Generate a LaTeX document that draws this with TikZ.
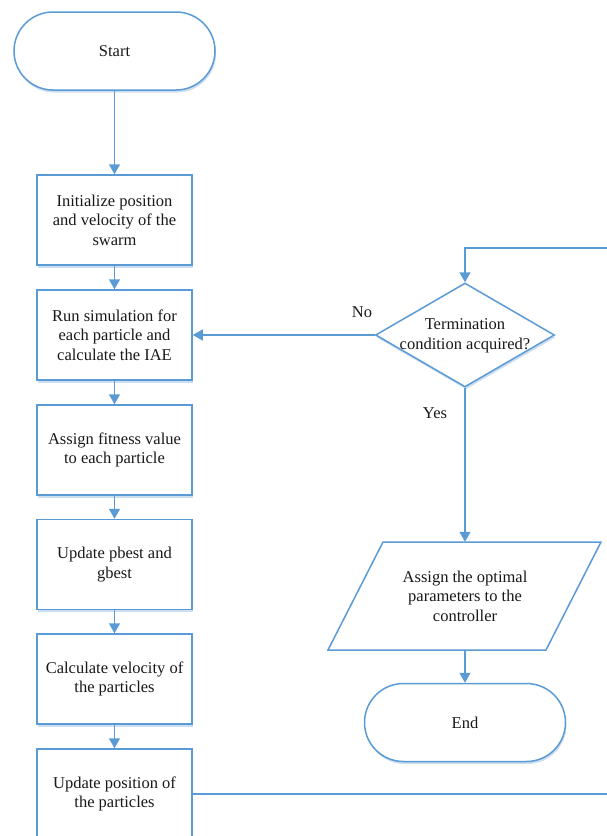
\documentclass[tikz,border=0pt]{standalone}
\usepackage{fontspec}
\setmainfont{Liberation Serif}
\newfontfamily\timesfont{Liberation Serif}
\usetikzlibrary{arrows.meta,shapes.geometric,shadows}
\definecolor{lineblue}{RGB}{91,155,213}
\definecolor{shadowblue}{RGB}{205,222,240}
\begin{document}
\begin{tikzpicture}[x=1pt,y=-1pt,
  txt/.style={font=\timesfont\fontsize{16.5}{19.5}\selectfont, align=center, text=black!90},
  flow/.style={txt, draw=lineblue, line width=1.5pt, fill=white,
    drop shadow={shadow xshift=1pt, shadow yshift=-2.5pt, fill=shadowblue, opacity=1}},
  term/.style={flow, minimum width=201pt, minimum height=78pt, rounded corners=39pt},
  proc/.style={flow, minimum width=155pt, minimum height=90pt},
  arr/.style={draw=lineblue, line width=1.5pt, -{Triangle[width=11pt,length=10pt]}},
  conn/.style={draw=lineblue, line width=1.5pt}
]
\useasboundingbox (0,0) rectangle (606,836);

\node[term] (start) at (114.5,51) {Start};
\node[proc] (init) at (114.5,220) {Initialize position\\and velocity of the\\swarm};
\node[proc] (run) at (114.5,335) {Run simulation for\\each particle and\\calculate the IAE};
\node[proc] (fit) at (114.5,450) {Assign fitness value\\to each particle};
\node[proc] (upd) at (114.5,564.5) {Update pbest and\\gbest};
\node[proc] (vel) at (114.5,679) {Calculate velocity of\\the particles};
\node[proc] (pos) at (114.5,794) {Update position of\\the particles};

\node[diamond, draw=lineblue, line width=1.5pt, fill=white, inner sep=0pt,
  minimum width=179pt, minimum height=104pt,
  drop shadow={shadow xshift=1pt, shadow yshift=-2.5pt, fill=shadowblue, opacity=1}] (cond) at (465,335) {};
\node[txt] (condtxt) at (465,336) {Termination\\condition acquired?};

\draw[conn, fill=white] (328,650) -- (383,542) -- (601,542) -- (546,650) -- cycle;
\node[txt, minimum height=108pt, inner sep=0pt] (assign) at (465,596) {Assign the optimal\\parameters to the\\controller};

\node[term] (end) at (465,722.5) {End};

\node[txt] (nolbl) at (362,312) {No};
\node[txt] (yeslbl) at (435,413) {Yes};

\draw[arr] (start) -- (init);
\draw[arr] (init) -- (run);
\draw[arr] (run) -- (fit);
\draw[arr] (fit) -- (upd);
\draw[arr] (upd) -- (vel);
\draw[arr] (vel) -- (pos);
\draw[arr] (cond.west) -- (run.east);
\draw[arr] (cond.south) -- (assign.north);
\draw[arr] (assign.south) -- (end.north);
\coordinate (rtop) at (612,248);
\draw[arr] (pos.east) -| (rtop) -| (cond.north);
\end{tikzpicture}
\end{document}
